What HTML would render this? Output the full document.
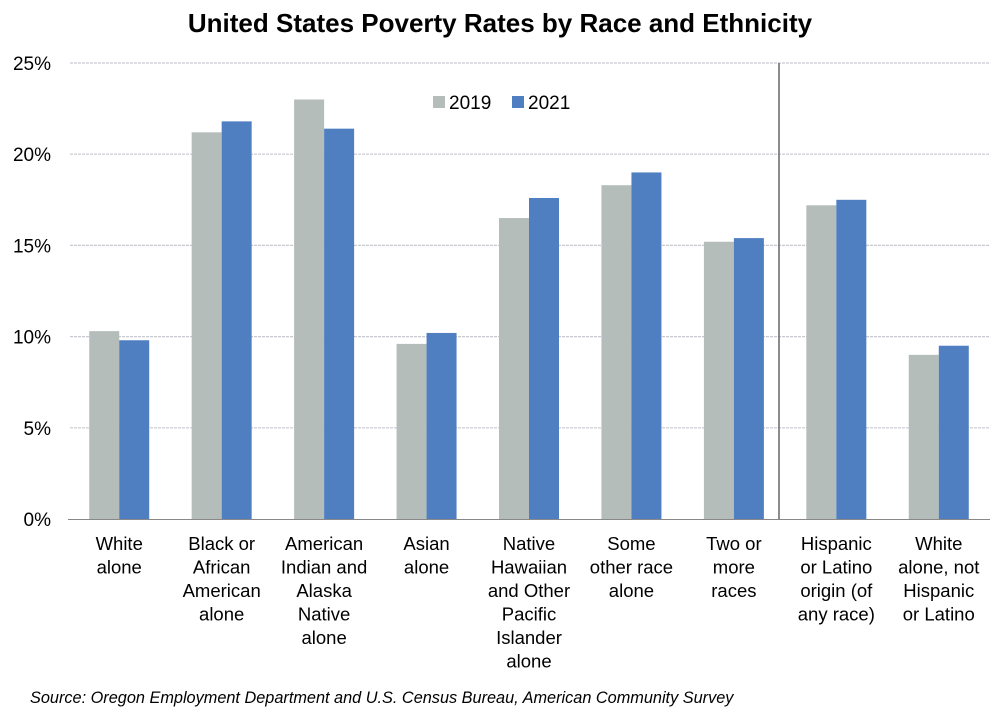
<!DOCTYPE html>
<html><head><meta charset="utf-8"><style>
body{margin:0;background:#fff;}
svg{display:block;font-family:"Liberation Sans",Arial,sans-serif;}
</style></head><body>
<svg id="chart" width="1000" height="727" viewBox="0 0 1000 727">
<text x="500" y="32" text-anchor="middle" font-size="26" font-weight="bold" fill="#000">United States Poverty Rates by Race and Ethnicity</text>
<g id="grid"></g>
<g id="yticks"></g>
<g id="bars"></g>
<g id="xlabels"></g>
<line x1="779" y1="63" x2="779" y2="519" stroke="#666" stroke-width="1.5"/>
<line x1="68" y1="519.5" x2="990" y2="519.5" stroke="#888" stroke-width="1"/>
<g>
<g><rect x="433" y="96" width="12" height="12" fill="#b5bdba"/><text x="449" y="109" font-size="19">2019</text></g>
<g><rect x="512" y="96" width="12" height="12" fill="#4f7fc0"/><text x="528" y="109" font-size="19">2021</text></g>
</g>
<text x="30" y="703" font-size="16.3" font-style="italic">Source: Oregon Employment Department and U.S. Census Bureau, American Community Survey</text>
</svg>
<script>
const categories=[["White","alone"],["Black or","African","American","alone"],["American","Indian and","Alaska","Native","alone"],["Asian","alone"],["Native","Hawaiian","and Other","Pacific","Islander","alone"],["Some","other race","alone"],["Two or","more","races"],["Hispanic","or Latino","origin (of","any race)"],["White","alone, not","Hispanic","or Latino"]];
const values2019=[10.3,21.2,23.0,9.6,16.5,18.3,15.2,17.2,9.0];
const values2021=[9.8,21.8,21.4,10.2,17.6,19.0,15.4,17.5,9.5];
const yTicks=[0,5,10,15,20,25];
const NS="http://www.w3.org/2000/svg";
const x0=68,x1=990,y0=519,yTop=63,ymax=25;
const band=(x1-x0)/categories.length;
const yS=v=>y0-(v/ymax)*(y0-yTop);
const xC=i=>x0+band*(i+0.5);
function mk(tag,attrs,parent){const e=document.createElementNS(NS,tag);for(const k in attrs)e.setAttribute(k,attrs[k]);parent.appendChild(e);return e;}
const grid=document.getElementById('grid'),yt=document.getElementById('yticks'),bars=document.getElementById('bars'),xl=document.getElementById('xlabels');
yTicks.forEach(t=>{
 if(t>0){const l=mk('line',{x1:70,x2:x1,y1:yS(t),y2:yS(t),stroke:'#c8c8d0','stroke-width':1.2,'stroke-dasharray':'3,1'},grid);
 
 }
 const tx=mk('text',{x:51,y:yS(t)+7,'text-anchor':'end','font-size':19},yt);tx.textContent=t+'%';
 
 
});
const bw=30;
categories.forEach((c,i)=>{
 const cx=xC(i);
 const r1=mk('rect',{x:cx-bw,y:yS(values2019[i]),width:bw,height:y0-yS(values2019[i]),fill:'#b5bdba'},bars);
 
 
 const r2=mk('rect',{x:cx,y:yS(values2021[i]),width:bw,height:y0-yS(values2021[i]),fill:'#4f7fc0'},bars);
 
 
 const t=mk('text',{x:cx,'text-anchor':'middle','font-size':18.5},xl);
 
 
 c.forEach((ln,j)=>{const s=mk('tspan',{x:cx,y:550+j*23.5},t);s.textContent=ln;});
});
</script>
</body></html>
